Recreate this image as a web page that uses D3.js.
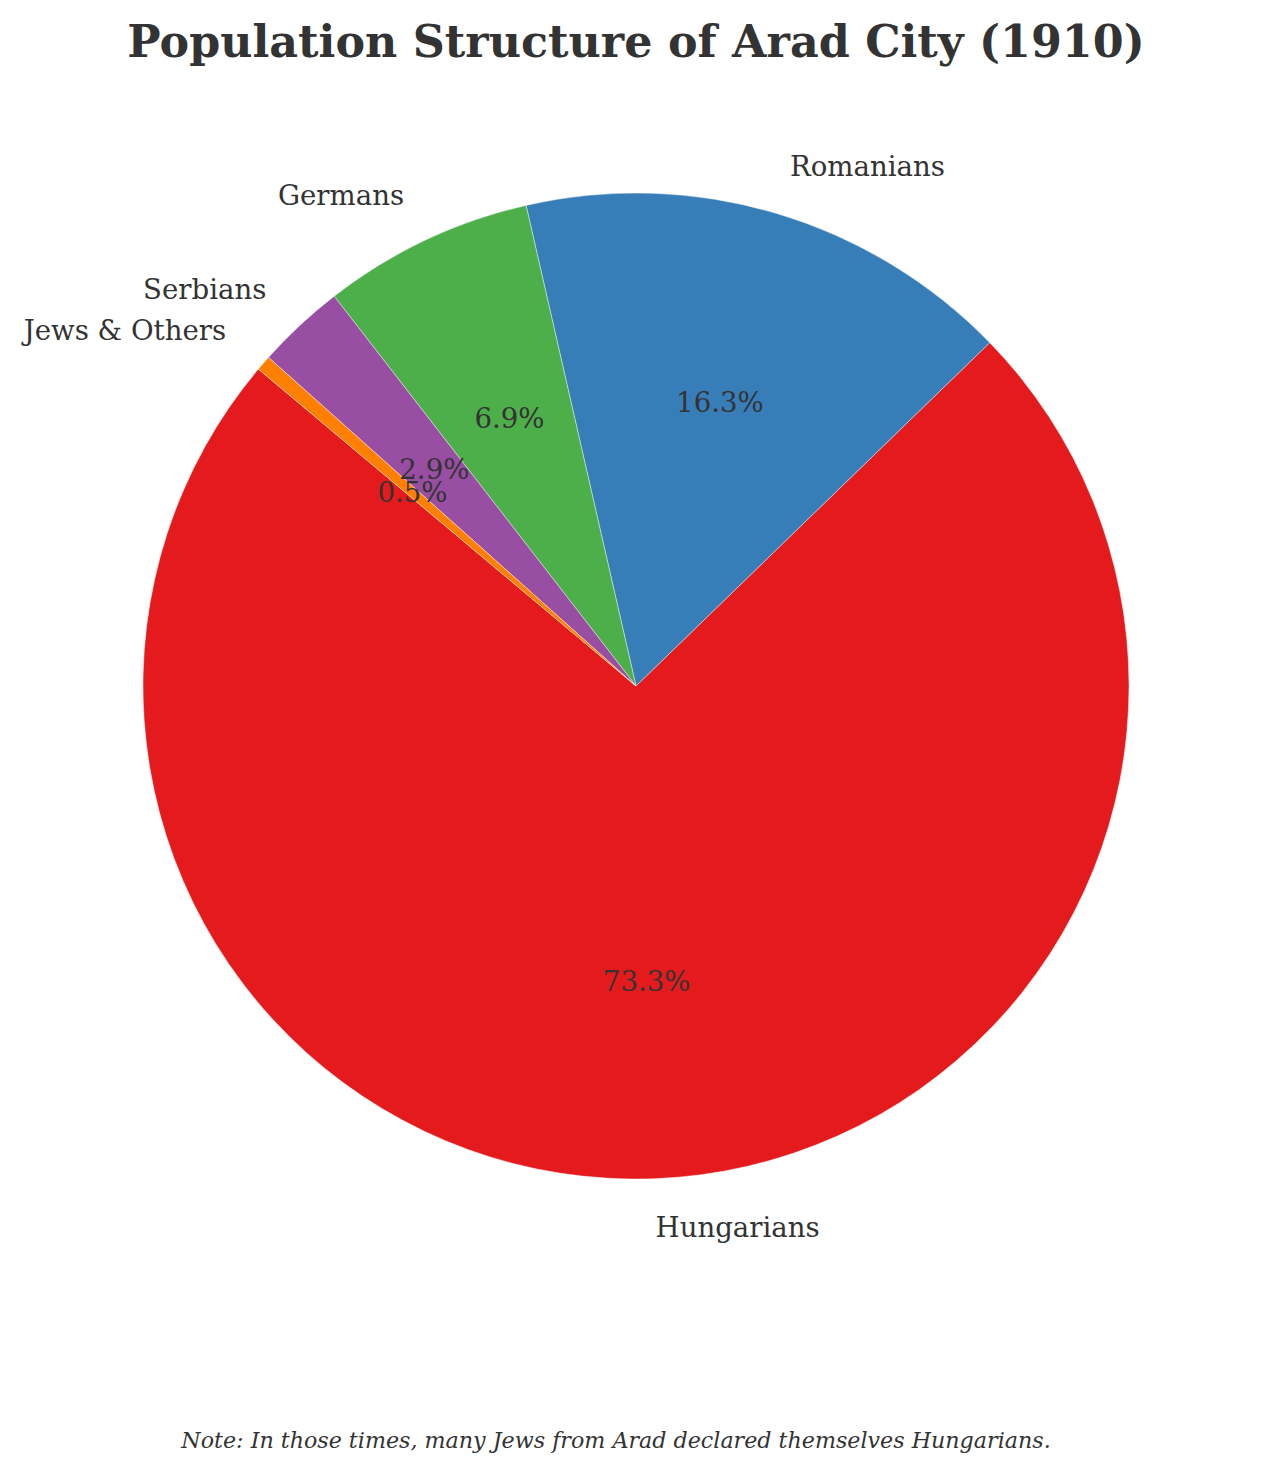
<!DOCTYPE html>
<html>
<head>
<meta charset="utf-8">
<script src="https://cdn.jsdelivr.net/npm/d3@7"></script>
<style>
  html, body { margin: 0; padding: 0; background: #fff; }
  svg { display: block; }
</style>
</head>
<body>
<script>
const categories = ["Hungarians", "Romanians", "Germans", "Serbians", "Jews & Others"];
const shares = [73.3, 16.3, 6.9, 2.9, 0.5];
const colors = ["#e41a1c", "#377eb8", "#4daf4a", "#984ea3", "#ff7f00"];
const titleText = "Population Structure of Arad City (1910)";
const noteText = "Note: In those times, many Jews from Arad declared themselves Hungarians.";

const W = 1272, H = 1471;
const cx = 636, cy = 686, R = 493;
const startDeg = 140; // matplotlib-style start angle, counter-clockwise

const svg = d3.select("body").append("svg").attr("width", W).attr("height", H);

const data = categories.map((c, i) => ({ name: c, value: shares[i], color: colors[i] }));
const toRad = d => d * Math.PI / 180;
const pie = d3.pie().sort(null).value(d => d.value)
  .startAngle(toRad(90 - startDeg))
  .endAngle(toRad(90 - startDeg - 360));
const arcs = pie(data);
const arc = d3.arc().innerRadius(0).outerRadius(R);

const g = svg.append("g").attr("transform", `translate(${cx},${cy})`);
g.selectAll("path.slice").data(arcs).join("path")
  .attr("class", "slice")
  .attr("d", arc)
  .attr("fill", d => d.data.color)
  .attr("stroke", "#fff")
  .attr("stroke-width", 0.4);

const font = "'DejaVu Serif', serif";
const midA = d => (d.startAngle + d.endAngle) / 2; // d3 angle, clockwise from 12 o'clock
const pos = (d, r) => [r * Math.sin(midA(d)), -r * Math.cos(midA(d))];

g.selectAll("text.lab").data(arcs).join("text")
  .attr("class", "lab")
  .attr("x", d => pos(d, R * 1.1)[0])
  .attr("y", d => pos(d, R * 1.1)[1])
  .attr("text-anchor", d => Math.sin(midA(d)) >= 0 ? "start" : "end")
  .attr("dominant-baseline", "central")
  .attr("font-family", font)
  .attr("font-size", 27.6)
  .attr("fill", "#333")
  .text(d => d.data.name);

g.selectAll("text.pct").data(arcs).join("text")
  .attr("class", "pct")
  .attr("x", d => pos(d, R * 0.6)[0])
  .attr("y", d => pos(d, R * 0.6)[1])
  .attr("text-anchor", "middle")
  .attr("dominant-baseline", "central")
  .attr("font-family", font)
  .attr("font-size", 27.6)
  .attr("fill", "#333")
  .text(d => d.data.value.toFixed(1) + "%");

svg.append("text")
  .attr("x", W / 2).attr("y", 41)
  .attr("text-anchor", "middle")
  .attr("dominant-baseline", "central")
  .attr("font-family", font)
  .attr("font-weight", "bold")
  .attr("font-size", 44.4)
  .attr("fill", "#333")
  .text(titleText);

svg.append("text")
  .attr("x", W / 2 - 20).attr("y", 1440)
  .attr("text-anchor", "middle")
  .attr("dominant-baseline", "central")
  .attr("font-family", font)
  .attr("font-style", "italic")
  .attr("font-size", 22.2)
  .attr("fill", "#333")
  .text(noteText);
</script>
</body>
</html>
